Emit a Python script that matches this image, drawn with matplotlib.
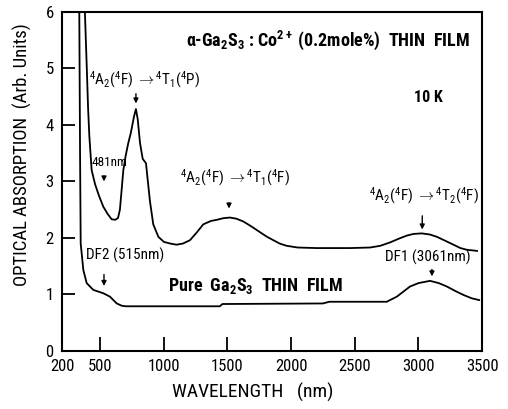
import numpy as np
import matplotlib
matplotlib.use('Agg')
import matplotlib.pyplot as plt

# Datos (longitud de onda en nm, absorción en u.a.)
doped_nm = [375, 380, 395, 405, 415, 433, 460, 490, 525, 560, 590, 617, 640, 655,
            664, 682, 700, 721, 740, 766, 781, 795, 813, 834, 860, 870, 891, 917,
            957, 1000, 1050, 1100, 1150, 1206, 1260, 1310, 1370, 1416, 1470, 1520,
            1570, 1625, 1690, 1756, 1810, 1860, 1910, 1965, 2050, 2201, 2463, 2620,
            2700, 2777, 2850, 2908, 2960, 3026, 3090, 3144, 3210, 3275, 3330, 3380,
            3460]
doped_abs = [7.0, 6.0, 5.0, 4.3, 3.8, 3.2, 2.95, 2.75, 2.55, 2.42, 2.33, 2.32, 2.35,
             2.5, 2.73, 3.2, 3.45, 3.68, 3.85, 4.15, 4.28, 4.1, 3.68, 3.4, 3.32, 3.1,
             2.65, 2.24, 2.02, 1.93, 1.9, 1.88, 1.9, 1.96, 2.1, 2.24, 2.3, 2.32, 2.35,
             2.36, 2.34, 2.29, 2.2, 2.1, 2.02, 1.96, 1.9, 1.86, 1.83, 1.82, 1.82, 1.83,
             1.86, 1.92, 1.99, 2.04, 2.07, 2.08, 2.06, 2.02, 1.95, 1.88, 1.82, 1.79,
             1.77]

pure_nm = [330, 336, 342, 347, 368, 394, 446, 525, 577, 630, 669, 700, 1000, 1440,
           1460, 2250, 2300, 2751, 2830, 2934, 3000, 3091, 3160, 3223, 3290, 3354,
           3420, 3477]
pure_abs = [7.0, 6.0, 3.5, 1.9, 1.43, 1.2, 1.08, 1.02, 0.96, 0.84, 0.8, 0.79, 0.79,
            0.79, 0.83, 0.84, 0.87, 0.87, 0.96, 1.14, 1.2, 1.24, 1.2, 1.14, 1.06,
            0.99, 0.93, 0.9]

xticks = [200, 500, 1000, 1500, 2000, 2500, 3000, 3500]
yticks = [0, 1, 2, 3, 4, 5, 6]

fuente = 'Roboto Condensed'
plt.rcParams['font.family'] = [fuente, 'DejaVu Sans']
plt.rcParams['mathtext.fontset'] = 'custom'
plt.rcParams['mathtext.rm'] = fuente
plt.rcParams['mathtext.it'] = fuente
plt.rcParams['mathtext.bf'] = fuente + ':bold'

fig = plt.figure(figsize=(5.08, 4.09), dpi=100)
ax = fig.add_axes([0.122, 0.142, 0.827, 0.829])

ax.plot(doped_nm, doped_abs, color='black', lw=1.3)
ax.plot(pure_nm, pure_abs, color='black', lw=1.3)

ax.set_xlim(200, 3500)
ax.set_ylim(0, 6)
ax.set_xticks(xticks)
ax.set_yticks(yticks)
ax.tick_params(direction='in', length=10, width=1.3, labelsize=12, pad=6,
               top=False, right=False)
ax.tick_params(axis='y', length=9.5)
for s in ax.spines.values():
    s.set_linewidth(1.5)

ax.set_xlabel('WAVELENGTH   (nm)', fontsize=14)
ax.set_ylabel('OPTICAL ABSORPTION  (Arb. Units)', fontsize=13.5)
ax.xaxis.set_label_coords(0.455, -0.094)
ax.yaxis.set_label_coords(-0.071, 0.578)

# Textos y flechas
ax.text(2290, 5.5, r'$\mathbf{\alpha}$-Ga$_\mathbf{2}$S$_\mathbf{3}$ : Co$^\mathbf{2+}$ (0.2mole%)  THIN  FILM',
        fontsize=13, fontweight='bold', ha='center', va='center')
ax.text(3080, 4.48, '10 K', fontsize=11.5, fontweight='bold', ha='center', va='center')
ax.text(1720, 1.15, r'Pure  Ga$_\mathbf{2}$S$_\mathbf{3}$  THIN  FILM', fontsize=13,
        fontweight='bold', ha='center', va='center')

ax.text(848, 4.8, r'$^4$A$_2$($^4$F) $\rightarrow$$^4$T$_1$($^4$P)', fontsize=11,
        ha='center', va='center')
ax.text(1560, 3.06, r'$^4$A$_2$($^4$F) $\rightarrow$$^4$T$_1$($^4$F)', fontsize=11,
        ha='center', va='center')
ax.text(3044, 2.74, r'$^4$A$_2$($^4$F) $\rightarrow$$^4$T$_2$($^4$F)', fontsize=11,
        ha='center', va='center')
ax.text(570, 3.33, '481nm', fontsize=9.5, ha='center', va='center')
ax.text(695, 1.70, 'DF2 (515nm)', fontsize=11, ha='center', va='center')
ax.text(3070, 1.65, 'DF1 (3061nm)', fontsize=11, ha='center', va='center')

flechas = [(781, 4.6, 4.33), (530, 3.12, 2.95), (1512, 2.67, 2.47),
           (3030, 2.44, 2.1), (3106, 1.49, 1.27), (530, 1.4, 1.1)]
for xf, y0, y1 in flechas:
    ax.annotate('', xy=(xf, y1), xytext=(xf, y0),
                arrowprops=dict(arrowstyle='-|>', color='black', lw=1.0,
                                mutation_scale=7))

fig.savefig('out.png', dpi=100)
